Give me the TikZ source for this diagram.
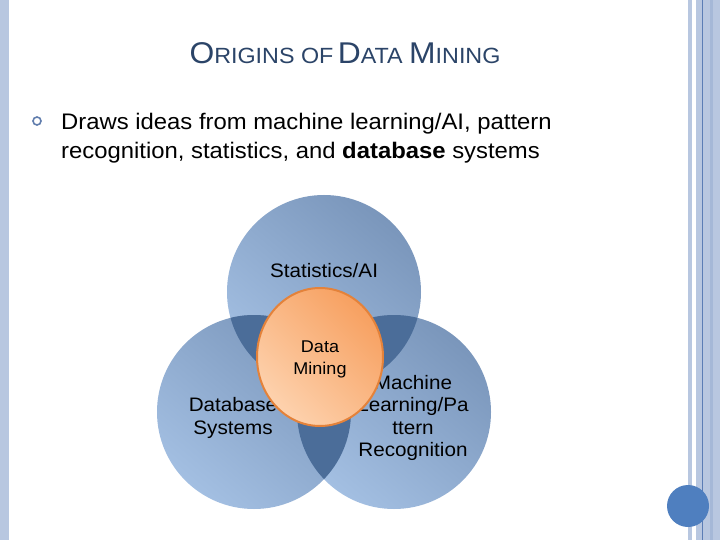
\documentclass[tikz,border=0pt]{standalone}
\usepackage{fontspec}
\setmainfont{Liberation Sans}[FakeStretch=1.06]
\usetikzlibrary{shapes.geometric}
\definecolor{barblue}{HTML}{B8C7E0}
\definecolor{bardark}{HTML}{5B7DB5}
\definecolor{titleblue}{HTML}{2B4468}
\definecolor{circA}{HTML}{7A96BB}
\definecolor{circB}{HTML}{A3BFE2}
\definecolor{lensblue}{HTML}{4B6D99}
\definecolor{orA}{HTML}{F7A060}
\definecolor{orB}{HTML}{FDD2AE}
\definecolor{orEdge}{HTML}{E4823A}
\definecolor{dotblue}{HTML}{4F7FBF}
\begin{document}
\begin{tikzpicture}[x=1pt,y=-1pt,
  venn/.style={circle,minimum size=194pt,inner sep=0pt,
    top color=circA,bottom color=circB,shading angle=-40},
  lbl/.style={font=\fontsize{19.5}{22.5}\selectfont,align=center,text=black},
  bar/.style={fill=barblue,draw=none}]
\useasboundingbox (0,0) rectangle (720,540);
\fill[white] (0,0) rectangle (720,540);
% side bars
\fill[bar] (0,0) rectangle (9,540);
\fill[bar] (688,0) rectangle (692,540);
\fill[bar] (696,0) rectangle (720,540);
\fill[barblue!80!bardark] (710,0) rectangle (713,540);
\fill[bardark] (702,0) rectangle (703,540);
\node[circle,fill=dotblue,minimum size=42pt,inner sep=0pt] (dot) at (688,506) {};
% title
\node[text=titleblue,anchor=base] (title) at (345,64)
  {\fontsize{30}{30}\selectfont O\fontsize{22}{30}\selectfont RIGINS OF\hspace{0.2em}\fontsize{30}{30}\selectfont D\fontsize{22}{30}\selectfont ATA \fontsize{30}{30}\selectfont M\fontsize{22}{30}\selectfont INING};
% bullet
\node[circle,draw=bardark!85!gray,line width=1.6pt,minimum size=8pt,inner sep=0pt] (bul) at (37,121) {};
\node[anchor=base west,inner sep=0pt,font=\fontsize{22.5}{29}\selectfont] (l1) at (61,130)
  {Draws ideas from machine learning/AI, pattern};
\node[anchor=base west,inner sep=0pt,font=\fontsize{22.5}{29}\selectfont] (l2) at (61,159)
  {recognition, statistics, and \textbf{database} systems};
% venn circles
\node[venn] (top) at (324,292) {};
\node[venn] (left) at (254,412) {};
\node[venn] (right) at (394,412) {};
% lenses
\begin{scope}
  \clip (324,292) circle[radius=97pt];
  \fill[lensblue] (254,412) circle[radius=97pt];
  \fill[lensblue] (394,412) circle[radius=97pt];
\end{scope}
\begin{scope}
  \clip (254,412) circle[radius=97pt];
  \fill[lensblue] (394,412) circle[radius=97pt];
\end{scope}
% labels
\node[lbl] (stat) at (324,271) {Statistics/AI};
\node[lbl] (db) at (233,418) {Database\\Systems};
\node[lbl] (ml) at (413,418) {Machine\\Learning/Pa\\ttern\\Recognition};
% data mining
\node[ellipse,minimum width=126pt,minimum height=138pt,inner sep=0pt,
  draw=orEdge,line width=2pt,top color=orA,bottom color=orB,
  shading angle=-45] (dm) at (320,357) {};
\node[font=\fontsize{17}{22}\selectfont,align=center] (dmt) at (320,359) {Data\\Mining};
\end{tikzpicture}
\end{document}
